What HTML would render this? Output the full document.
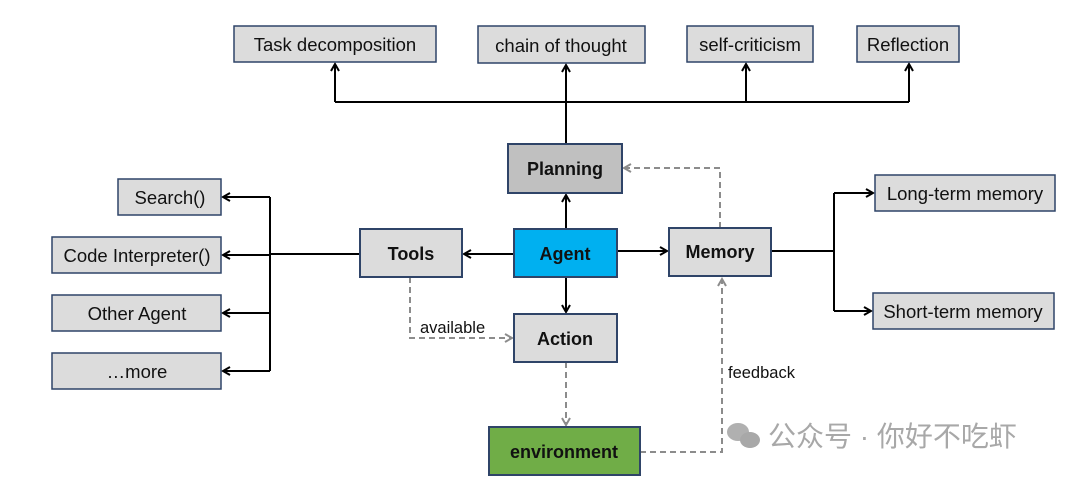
<!DOCTYPE html>
<html><head><meta charset="utf-8"><style>
body{margin:0;background:#fff;}
svg text{font-family:"Liberation Sans",Arial,sans-serif;}
</style></head><body>
<svg width="1080" height="479" viewBox="0 0 1080 479" xmlns="http://www.w3.org/2000/svg">
<defs>
<marker id="a" markerWidth="10" markerHeight="10" refX="8" refY="5" orient="auto" markerUnits="userSpaceOnUse"><path d="M1,1 L8,5 L1,9" fill="none" stroke="#000" stroke-width="2"/></marker>
<marker id="g" markerWidth="10" markerHeight="10" refX="8" refY="5" orient="auto" markerUnits="userSpaceOnUse"><path d="M1,1 L8,5 L1,9" fill="none" stroke="#8c8c8c" stroke-width="2"/></marker>
</defs>
<g stroke="#000" stroke-width="2" fill="none">
<path d="M566,144 V102"/>
<path d="M335,102 H909"/>
<path d="M335,102 V64" marker-end="url(#a)"/>
<path d="M566,102 V65" marker-end="url(#a)"/>
<path d="M746,102 V64" marker-end="url(#a)"/>
<path d="M909,102 V64" marker-end="url(#a)"/>
<path d="M566,229 V195" marker-end="url(#a)"/>
<path d="M514,254 H464" marker-end="url(#a)"/>
<path d="M617,251 H667" marker-end="url(#a)"/>
<path d="M566,277 V312" marker-end="url(#a)"/>
<path d="M360,254 H270"/>
<path d="M270,197 V371"/>
<path d="M270,197 H223" marker-end="url(#a)"/>
<path d="M270,255 H223" marker-end="url(#a)"/>
<path d="M270,313 H223" marker-end="url(#a)"/>
<path d="M270,371 H223" marker-end="url(#a)"/>
<path d="M771,251 H834"/>
<path d="M834,193 V311"/>
<path d="M834,193 H873" marker-end="url(#a)"/>
<path d="M834,311 H871" marker-end="url(#a)"/>
</g>
<g stroke="#8c8c8c" stroke-width="2" fill="none" stroke-dasharray="6,4">
<path d="M720,228 V168 H624" marker-end="url(#g)"/>
<path d="M410,277 V338 H512" marker-end="url(#g)"/>
<path d="M566,362 V425" marker-end="url(#g)"/>
<path d="M640,452 H722 V279" marker-end="url(#g)"/>
</g>
<g stroke="#2f4468" stroke-width="1.5">
<rect x="234" y="26" width="202" height="36" fill="#dcdcdc"/>
<rect x="478" y="26" width="167" height="37" fill="#dcdcdc"/>
<rect x="687" y="26" width="126" height="36" fill="#dcdcdc"/>
<rect x="857" y="26" width="102" height="36" fill="#dcdcdc"/>
<rect x="508" y="144" width="114" height="49" fill="#c0c0c0" stroke-width="2"/>
<rect x="514" y="229" width="103" height="48" fill="#00b0f0" stroke-width="2"/>
<rect x="360" y="229" width="102" height="48" fill="#dcdcdc" stroke-width="2"/>
<rect x="669" y="228" width="102" height="48" fill="#dcdcdc" stroke-width="2"/>
<rect x="514" y="314" width="103" height="48" fill="#dcdcdc" stroke-width="2"/>
<rect x="489" y="427" width="151" height="48" fill="#70ad47" stroke-width="2"/>
<rect x="118" y="179" width="103" height="36" fill="#dcdcdc"/>
<rect x="52" y="237" width="169" height="36" fill="#dcdcdc"/>
<rect x="52" y="295" width="169" height="36" fill="#dcdcdc"/>
<rect x="52" y="353" width="169" height="36" fill="#dcdcdc"/>
<rect x="875" y="175" width="180" height="36" fill="#dcdcdc"/>
<rect x="873" y="293" width="181" height="36" fill="#dcdcdc"/>
</g>
<g font-size="18.5" fill="#111" text-anchor="middle">
<text x="335" y="51">Task decomposition</text>
<text x="561" y="52">chain of thought</text>
<text x="750" y="51">self-criticism</text>
<text x="908" y="51">Reflection</text>
<text x="170" y="204">Search()</text>
<text x="137" y="262">Code Interpreter()</text>
<text x="137" y="320">Other Agent</text>
<text x="137" y="378">…more</text>
<text x="965" y="200">Long-term memory</text>
<text x="963" y="318">Short-term memory</text>
</g>
<g font-size="18" font-weight="bold" fill="#111" text-anchor="middle">
<text x="565" y="175">Planning</text>
<text x="565" y="260">Agent</text>
<text x="411" y="260">Tools</text>
<text x="720" y="258">Memory</text>
<text x="565" y="345">Action</text>
<text x="564" y="458">environment</text>
</g>
<text x="420" y="333" font-size="16.5" fill="#111">available</text>
<text x="728" y="378" font-size="16.5" fill="#111">feedback</text>
<g fill="#b0b0b0">
<ellipse cx="738" cy="432" rx="11" ry="9"/>
<ellipse cx="750" cy="440" rx="10" ry="8" fill="#a8a8a8"/>
</g>
<text x="768" y="446" font-size="28" fill="#a8a8a8" style='font-family:"Liberation Sans","Noto Sans CJK SC",sans-serif'>公众号 · 你好不吃虾</text>
</svg>
</body></html>
